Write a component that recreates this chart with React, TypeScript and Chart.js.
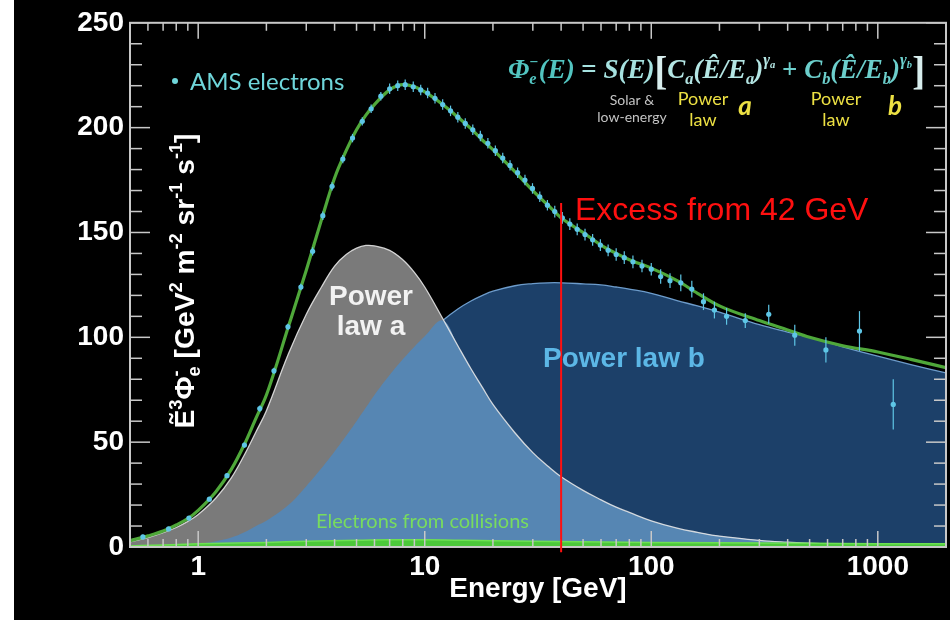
import React, { useEffect, useRef } from "react";
import { Chart, registerables } from "chart.js";

Chart.register(...registerables);

// ---------- data ----------
const curveE = [0.5, 0.6, 0.7, 0.8, 0.9, 1, 1.2, 1.4, 1.6, 1.8, 2, 2.5, 3, 3.5, 4, 4.5, 5, 5.5, 6, 7, 8, 9, 10, 12, 14, 16, 18, 20, 25, 30, 35, 40, 50, 60, 70, 80, 100, 130, 160, 200, 300, 400, 500, 700, 1000, 1400, 2000];

const powerLawA = [2.5, 4.5, 6.8, 9.3, 12.2, 15.5, 23.5, 33, 44, 55, 65, 92, 111, 124, 134, 139.5, 142.5, 143.8, 143.6, 141.5, 137, 131, 124, 109, 96, 85, 76, 68, 54.5, 45, 38.5, 33.5, 27, 22.5, 19, 16.5, 12.5, 9, 7, 5.2, 3.2, 2.3, 1.8, 1.2, 0.8, 0.5, 0.3];

const powerLawB = [0.2, 0.4, 0.6, 0.9, 1.2, 1.5, 2.8, 4.5, 7, 10, 12.5, 20, 29, 37.5, 45.5, 53, 60, 66.5, 72.5, 82, 89.5, 95.5, 100.5, 108, 113.5, 117.3, 120, 122, 124.6, 125.6, 126, 126, 125.5, 125, 124, 123, 121, 117.5, 115, 112, 106, 102.5, 100, 95.5, 91, 87, 83];

const totalFit = [3, 5.3, 7.6, 10.5, 13.5, 17.5, 26.5, 37, 49, 61.5, 72.5, 105, 132, 156, 176, 189, 199, 206, 211, 218, 220.5, 219.5, 217, 211, 205, 199.5, 194, 189.5, 179, 170, 163, 157, 150, 144, 140, 137, 133, 127, 121, 115, 108, 103.5, 100, 96, 93, 89.5, 85.5];

const collisionE = [0.5, 0.7, 1, 2, 3, 5, 7, 10, 15, 20, 30, 50, 100, 200, 500, 1000, 2000];
const collisionV = [0.5, 1, 1.5, 2.2, 2.7, 3.2, 3.4, 3.4, 3.2, 3, 2.8, 2.5, 2.2, 2, 1.8, 1.6, 1.5];

const amsE = [0.57, 0.74, 0.91, 1.12, 1.34, 1.6, 1.87, 2.16, 2.49, 2.84, 3.2, 3.55, 3.9, 4.35, 4.8, 5.3, 5.8, 6.4, 7.0, 7.6, 8.2, 8.9, 9.6, 10.3, 11.1, 12.0, 13.0, 14.0, 15.1, 16.3, 17.6, 19.0, 20.5, 22.1, 23.8, 25.7, 27.7, 29.9, 32.2, 34.8, 37.5, 40.5, 43.7, 47.1, 51.0, 55.1, 59.6, 64.5, 70, 76, 83, 91, 100, 110, 121, 135, 151, 170, 190, 215, 260, 330, 430, 590, 830, 1170];
const amsFlux = [4.8, 8.6, 13.8, 22.8, 34, 48.6, 66, 84, 105, 124, 141, 158, 172, 185, 195, 203, 209, 215, 218.5, 220, 220.5, 219.5, 218, 216.5, 214, 211, 208, 205, 202, 199, 196, 192.5, 189, 185.5, 182, 178.5, 175, 171, 167, 163, 160, 157, 154, 151.5, 149, 146.5, 144, 141.5, 139.5, 138, 136, 134, 132.5, 129, 127, 126, 123, 117, 113, 110, 108, 111, 101, 94, 103, 68];
const amsErr = [1, 1, 1, 1, 1, 1.2, 1.5, 1.5, 1.5, 1.5, 2, 2, 2, 2, 2, 2, 2, 2, 2.5, 2.5, 2.5, 2.5, 2.5, 2.5, 2.5, 2.5, 2.5, 2.5, 2.5, 2.5, 2.5, 2.5, 2.5, 2.5, 2.5, 2.5, 2.5, 2.5, 2.5, 2.5, 2.8, 2.8, 2.8, 2.8, 2.8, 2.8, 2.8, 2.8, 3, 3, 3, 3, 3, 3.5, 3.5, 4, 4, 4, 4, 4, 3.5, 4.5, 5, 6, 9.5, 12];

const xTickLabels = [1, 10, 100, 1000];
const yTickStep = 50;
const X_MIN = 0.5;
const X_MAX = 2000;
const Y_MIN = 0;
const Y_MAX = 250;
const excessEnergy = 40;
const excessTop = 164;
const excessBottom = -2.5;

// ---------- rich text helper ----------
type Seg = { t: string; s: number; dy?: number; c?: string; st?: string; stack?: boolean };

function drawRich(
  ctx: CanvasRenderingContext2D,
  segs: Seg[],
  x: number,
  y: number,
  family: string,
  defStyle: string,
  defColor: string,
  fitW?: number,
  align: "left" | "center" = "left"
) {
  const font = (g: Seg) => `${g.st ?? defStyle} ${g.s}px ${family}`;
  const widths: number[] = [];
  let total = 0;
  let pending = 0;
  segs.forEach((g) => {
    ctx.font = font(g);
    const w = ctx.measureText(g.t).width;
    widths.push(w);
    if (g.stack) {
      pending = Math.max(pending, w);
    } else {
      total += Math.max(pending, w);
      pending = 0;
    }
  });
  const sx = fitW ? fitW / total : 1;
  ctx.save();
  ctx.translate(align === "center" ? x - (total * sx) / 2 : x, y);
  ctx.scale(sx, 1);
  ctx.textAlign = "left";
  ctx.textBaseline = "alphabetic";
  let cx = 0;
  pending = 0;
  segs.forEach((g, i) => {
    ctx.font = font(g);
    ctx.fillStyle = g.c ?? defColor;
    ctx.fillText(g.t, cx, g.dy ?? 0);
    if (g.stack) {
      pending = Math.max(pending, widths[i]);
    } else {
      cx += Math.max(pending, widths[i]);
      pending = 0;
    }
  });
  ctx.restore();
}

const yTitleSegs: Seg[] = [
  { t: "Ẽ", s: 28 },
  { t: "3", s: 18, dy: -12 },
  { t: "Φ", s: 28 },
  { t: "e", s: 18, dy: 6, stack: true },
  { t: "-", s: 18, dy: -12 },
  { t: " [GeV", s: 28 },
  { t: "2", s: 18, dy: -12 },
  { t: " m", s: 28 },
  { t: "-2", s: 18, dy: -12 },
  { t: " sr", s: 28 },
  { t: "-1", s: 18, dy: -12 },
  { t: " s", s: 28 },
  { t: "-1", s: 18, dy: -12 },
  { t: "]", s: 28 },
];

const cPhi = "#52c4c0";
const cS = "#a6e2e0";
const cA = "#b4e6e4";
const cB = "#6ccfcc";
const formulaSegs: Seg[] = [
  { t: "Φ", s: 28, c: cPhi },
  { t: "e", s: 17, dy: 6, stack: true, c: cPhi },
  { t: "−", s: 16, dy: -11, c: cPhi },
  { t: "(E)", s: 28, c: cPhi },
  { t: " = ", s: 28, st: "bold", c: cS },
  { t: "S(E)", s: 28, c: cS },
  { t: "[", s: 40, st: "bold", dy: 6, c: "#d8eeee" },
  { t: "C", s: 28, c: cA },
  { t: "a", s: 17, dy: 6, c: cA },
  { t: "(Ê/E", s: 28, c: cA },
  { t: "a", s: 17, dy: 6, c: cA },
  { t: ")", s: 28, c: cA },
  { t: "γ", s: 17, dy: -13, c: cA },
  { t: "a", s: 11, dy: -10, c: cA },
  { t: " + ", s: 28, st: "bold", c: cB },
  { t: "C", s: 28, c: cB },
  { t: "b", s: 17, dy: 6, c: cB },
  { t: "(Ê/E", s: 28, c: cB },
  { t: "b", s: 17, dy: 6, c: cB },
  { t: ")", s: 28, c: cB },
  { t: "γ", s: 17, dy: -13, c: cB },
  { t: "b", s: 11, dy: -10, c: cB },
  { t: "]", s: 40, st: "bold", dy: 6, c: "#d8eeee" },
];

const AMS_INDEX = 0;

const decorPlugin = {
  id: "decor",
  beforeDatasetDraw(chart: any, args: any) {
    if (args.index !== AMS_INDEX) return;
    const { ctx, scales } = chart;
    const meta = chart.getDatasetMeta(AMS_INDEX);
    ctx.save();
    ctx.strokeStyle = "#5ec6e6";
    ctx.lineWidth = 1.2;
    meta.data.forEach((pt: any, j: number) => {
      const yt = scales.y.getPixelForValue(amsFlux[j] + amsErr[j]);
      const yb = scales.y.getPixelForValue(amsFlux[j] - amsErr[j]);
      ctx.beginPath();
      ctx.moveTo(pt.x, yt);
      ctx.lineTo(pt.x, yb);
      ctx.stroke();
    });
    ctx.restore();
  },
  afterDatasetsDraw(chart: any) {
    const { ctx, chartArea: ca, scales } = chart;
    const { x, y } = scales;
    const seg = (x1: number, y1: number, x2: number, y2: number) => {
      ctx.beginPath();
      ctx.moveTo(x1, y1);
      ctx.lineTo(x2, y2);
      ctx.stroke();
    };
    ctx.save();
    ctx.strokeStyle = "#c8c8c8";
    ctx.lineWidth = 1.5;
    for (let v = Y_MIN; v <= Y_MAX; v += 10) {
      const py = y.getPixelForValue(v);
      const len = v % yTickStep === 0 ? 20 : 12;
      seg(ca.left, py, ca.left + len, py);
      seg(ca.right, py, ca.right - len, py);
    }
    for (let d = -1; d <= 3; d++) {
      for (let m = 1; m <= 9; m++) {
        const v = m * Math.pow(10, d);
        if (v < X_MIN - 1e-9 || v > X_MAX + 1e-9) continue;
        const px = x.getPixelForValue(v);
        const len = m === 1 ? 16 : 8;
        seg(px, ca.bottom, px, ca.bottom - len);
        seg(px, ca.top, px, ca.top + len);
      }
    }
    ctx.lineWidth = 2;
    ctx.strokeRect(ca.left, ca.top, ca.right - ca.left, ca.bottom - ca.top);
    ctx.restore();
  },
  afterDraw(chart: any) {
    const { ctx, scales } = chart;
    const { x, y } = scales;
    ctx.save();
    // red excess line
    const rx = x.getPixelForValue(excessEnergy);
    ctx.strokeStyle = "#ff1010";
    ctx.lineWidth = 2;
    ctx.beginPath();
    ctx.moveTo(rx, y.getPixelForValue(excessTop));
    ctx.lineTo(rx, y.getPixelForValue(excessBottom));
    ctx.stroke();

    ctx.textBaseline = "alphabetic";
    ctx.textAlign = "left";
    ctx.fillStyle = "#ff1010";
    ctx.font = "32px 'Liberation Sans'";
    ctx.fillText("Excess from 42 GeV", 561, 220);

    // y axis title
    ctx.save();
    ctx.translate(180, 281);
    ctx.rotate(-Math.PI / 2);
    drawRich(ctx, yTitleSegs, 0, 0, "'Liberation Sans'", "bold", "#ffffff", 295, "center");
    ctx.restore();

    // AMS legend
    ctx.fillStyle = "#6fd6da";
    ctx.beginPath();
    ctx.arc(161, 81, 3, 0, Math.PI * 2);
    ctx.fill();
    ctx.font = "24px Lato";
    ctx.textBaseline = "middle";
    ctx.fillText("AMS electrons", 176, 82);

    // formula
    drawRich(ctx, formulaSegs, 494, 78, "'Liberation Serif'", "italic bold", cA, 417, "left");

    ctx.textAlign = "center";
    ctx.textBaseline = "middle";
    ctx.fillStyle = "#c4c4c4";
    ctx.font = "14px Lato";
    ctx.fillText("Solar &", 618, 100);
    ctx.fillText("low-energy", 618, 117);
    ctx.fillStyle = "#ece043";
    ctx.font = "18px Lato";
    ctx.fillText("Power", 689, 99);
    ctx.fillText("law", 689, 120);
    ctx.fillText("Power", 822, 99);
    ctx.fillText("law", 822, 120);
    ctx.font = "italic bold 26px Lato";
    ctx.fillText("a", 731, 107);
    ctx.fillText("b", 881, 107);

    // component labels
    ctx.textBaseline = "alphabetic";
    ctx.fillStyle = "#f2f2f2";
    ctx.font = "bold 28px 'Liberation Sans'";
    ctx.fillText("Power", 357, 305);
    ctx.fillText("law a", 357, 335);
    ctx.textAlign = "left";
    ctx.fillStyle = "#5cb7e6";
    ctx.fillText("Power law b", 529, 367);
    ctx.fillStyle = "#78dc5e";
    ctx.font = "20px Lato";
    ctx.fillText("Electrons from collisions", 302, 528);
    ctx.restore();
  },
};

const pts = (xs: number[], ys: number[]) => xs.map((v, i) => ({ x: v, y: ys[i] }));

export default function App() {
  const ref = useRef<HTMLCanvasElement>(null);
  useEffect(() => {
    if (!ref.current) return;
    const minAB = powerLawA.map((v, i) => Math.min(v, powerLawB[i]));
    const isDecade = (v: number) => Math.abs(Math.log10(v) - Math.round(Math.log10(v))) < 1e-6;
    const chart = new Chart(ref.current, {
      type: "line",
      data: {
        datasets: [
          {
            label: "AMS electrons",
            data: pts(amsE, amsFlux),
            showLine: false,
            pointRadius: 2.6,
            pointBackgroundColor: "#5ec6e6",
            pointBorderWidth: 0,
            order: 0,
          },
          {
            label: "Fit",
            data: pts(curveE, totalFit),
            borderColor: "#4fa83a",
            borderWidth: 3.2,
            pointRadius: 0,
            cubicInterpolationMode: "monotone",
            fill: false,
            order: 1,
          },
          {
            label: "Electrons from collisions",
            data: pts(collisionE, collisionV),
            borderColor: "#6ee052",
            borderWidth: 1.5,
            backgroundColor: "#4cc83a",
            pointRadius: 0,
            cubicInterpolationMode: "monotone",
            fill: "origin",
            order: 2,
          },
          {
            label: "Power law a outline",
            data: pts(curveE, powerLawA),
            borderColor: "rgba(235,235,235,0.85)",
            borderWidth: 1.3,
            pointRadius: 0,
            tension: 0.4,
            fill: false,
            order: 3,
          },
          {
            label: "Overlap",
            data: pts(curveE, minAB),
            borderWidth: 0,
            borderColor: "rgba(0,0,0,0)",
            backgroundColor: "#5686b3",
            pointRadius: 0,
            tension: 0.4,
            fill: "origin",
            order: 4,
          },
          {
            label: "Power law a",
            data: pts(curveE, powerLawA),
            borderWidth: 0,
            borderColor: "rgba(0,0,0,0)",
            backgroundColor: "#7a7a7a",
            pointRadius: 0,
            tension: 0.4,
            fill: "origin",
            order: 5,
          },
          {
            label: "Power law b",
            data: pts(curveE, powerLawB),
            borderColor: "rgba(120,170,220,0.9)",
            borderWidth: 1.3,
            backgroundColor: "#1c4069",
            pointRadius: 0,
            tension: 0.4,
            fill: "origin",
            order: 6,
          },
        ],
      },
      options: {
        animation: false,
        responsive: false,
        devicePixelRatio: 1,
        layout: { padding: { left: 0, right: 4, top: 22, bottom: 0 } },
        plugins: { legend: { display: false }, tooltip: { enabled: false } },
        scales: {
          x: {
            type: "logarithmic",
            min: X_MIN,
            max: X_MAX,
            grid: { display: false, drawTicks: false },
            border: { display: false },
            afterFit: (s: any) => {
              s.height = 73;
            },
            ticks: {
              autoSkip: false,
              maxRotation: 0,
              minRotation: 0,
              padding: 3,
              color: "#ffffff",
              font: { family: "'Liberation Sans'", size: 28, weight: "bold" },
              callback: (v: any) => {
                const n = Number(v);
                return isDecade(n) && xTickLabels.some((t) => Math.abs(t - n) < 1e-6) ? String(Math.round(n)) : "";
              },
            },
            title: {
              display: true,
              text: "Energy [GeV]",
              color: "#ffffff",
              font: { family: "'Liberation Sans'", size: 28, weight: "bold" },
              padding: { top: 0, bottom: 14 },
            },
          },
          y: {
            type: "linear",
            min: Y_MIN,
            max: Y_MAX,
            grid: { display: false, drawTicks: false },
            border: { display: false },
            afterFit: (s: any) => {
              s.width = 116;
            },
            ticks: {
              stepSize: yTickStep,
              padding: 6,
              color: "#ffffff",
              font: { family: "'Liberation Sans'", size: 28, weight: "bold" },
            },
          },
        },
      },
      plugins: [decorPlugin],
    } as any);
    return () => chart.destroy();
  }, []);

  return (
    <div style={{ position: "fixed", left: 0, top: 0, width: 950, height: 620, background: "#ffffff" }}>
      <div style={{ position: "absolute", left: 14, top: 0, width: 936, height: 620, background: "#000000" }}>
        <canvas ref={ref} width={936} height={620} style={{ display: "block", width: 936, height: 620 }} />
      </div>
    </div>
  );
}
